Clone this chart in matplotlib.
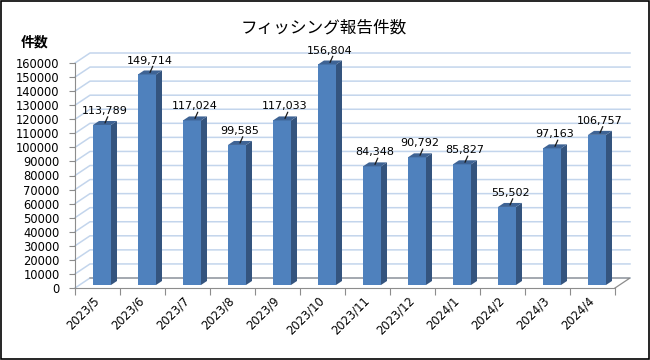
import matplotlib.pyplot as plt
from matplotlib.patches import Polygon, Rectangle

plt.rcParams['font.family'] = ['DejaVu Sans', 'Noto Sans CJK JP']

months = ['2023/5', '2023/6', '2023/7', '2023/8', '2023/9', '2023/10',
          '2023/11', '2023/12', '2024/1', '2024/2', '2024/3', '2024/4']
reports = [113789, 149714, 117024, 99585, 117033, 156804,
           84348, 90792, 85827, 55502, 97163, 106757]
y_ticks = list(range(0, 160001, 10000))
title = 'フィッシング報告件数'
y_label = '件数'

FRONT = '#4F81BD'
SIDE = '#34547E'
TOP = '#3E6394'
GRID = '#C3D5EC'
AXIS = '#8C8C8C'

fig = plt.figure(figsize=(6.5, 3.6), dpi=100)
ax = fig.add_axes([75 / 650, 72 / 360, 540 / 650, 225 / 360])
ax.set_xlim(0, len(months))
ax.set_ylim(0, 160000)

# depth of the fake 3d box, in data units
dx = 1 / 3
dy = 7111
bw = 0.4

# back wall + side wall gridlines
for v in y_ticks:
    ax.plot([0, dx, len(months) + dx], [v, v + dy, v + dy],
            color=GRID, lw=1.1, clip_on=False, zorder=0)
# floor outline
ax.plot([len(months), len(months) + dx, dx], [0, dy, dy],
        color=AXIS, lw=0.9, clip_on=False, zorder=1)

# bars
base = 0.3 * dy
for i, v in enumerate(reports):
    xl = i + 0.5 + 0.3 * dx - bw / 2
    xr = xl + bw
    ax.bar(xl, v, width=bw, bottom=base, align='edge', color=FRONT,
           edgecolor='none', zorder=3, clip_on=False)
    side = [(xr, base), (xr + 0.4 * dx, base + 0.4 * dy),
            (xr + 0.4 * dx, base + v + 0.4 * dy), (xr, base + v)]
    ax.add_patch(Polygon(side, closed=True, fc=SIDE, ec='none',
                         zorder=3, clip_on=False))
    top = [(xl, base + v), (xl + 0.4 * dx, base + v + 0.4 * dy),
           (xr + 0.4 * dx, base + v + 0.4 * dy), (xr, base + v)]
    ax.add_patch(Polygon(top, closed=True, fc=TOP, ec='none',
                         zorder=3, clip_on=False))
    tip = ((xl + xr) / 2 + 0.2 * dx, base + v + 0.2 * dy)
    # leader line
    ax.annotate('', xy=tip, xytext=(2, 4.5), textcoords='offset points',
                arrowprops=dict(arrowstyle='-', color='#1a1a1a', lw=0.9,
                                shrinkA=0, shrinkB=0),
                zorder=5, annotation_clip=False)
    ax.annotate(f'{v:,}', xy=tip, xytext=(0, 8.6), textcoords='offset points',
                ha='center', va='center', fontsize=8, color='black',
                zorder=5, annotation_clip=False)

# axes
for s in ['top', 'right']:
    ax.spines[s].set_visible(False)
ax.spines['left'].set_color(AXIS)
ax.spines['bottom'].set_color(AXIS)
ax.set_yticks(y_ticks)
ax.set_yticklabels([str(t) for t in y_ticks])
ax.tick_params(axis='y', length=4, color=AXIS, labelsize=8.3, pad=7)
ax.set_xticks(range(len(months) + 1))
ax.set_xticklabels([])
ax.tick_params(axis='x', which='major', length=5, color=AXIS, direction='out')
ax.set_xticks([i + 0.5 for i in range(len(months))], minor=True)
ax.set_xticklabels(months, minor=True, rotation=45, ha='right',
                   va='center', rotation_mode='anchor', fontsize=8.3)
ax.tick_params(axis='x', which='minor', length=0, pad=8)
ax.patch.set_visible(False)

fig.text(0.498, 1 - 28 / 360, title, ha='center', va='center',
         fontsize=12, family=['Noto Sans CJK JP'])
fig.text(35 / 650, 1 - 42 / 360, y_label, ha='center', va='center',
         fontsize=10, fontweight='bold', family=['Noto Sans CJK JP'])

fig.patches.append(Rectangle((0.001, 0.002), 0.997, 0.995, fill=False,
                             ec='black', lw=1.2, transform=fig.transFigure,
                             figure=fig))

fig.savefig('out.png', dpi=100)
